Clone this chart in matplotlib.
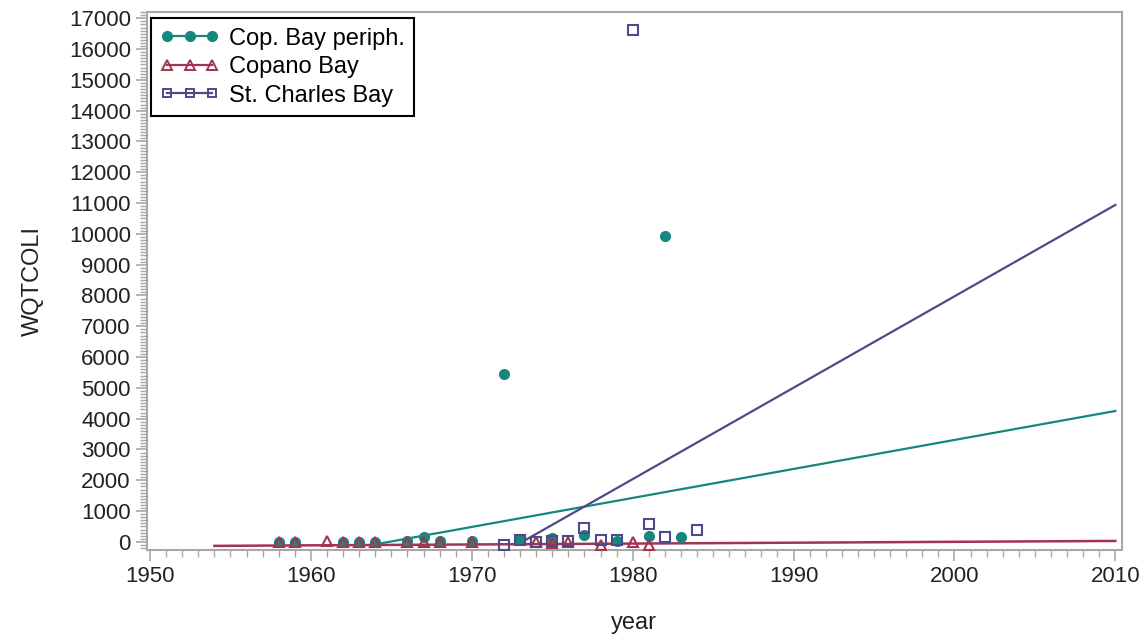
import matplotlib
matplotlib.use("Agg")
import matplotlib.pyplot as plt
from matplotlib.ticker import MultipleLocator

plt.rcParams["font.family"] = ["Liberation Sans", "DejaVu Sans"]

# Cop. Bay periph.
periph_year = [1958, 1959, 1962, 1963, 1964, 1966, 1967, 1968, 1970, 1972,
               1973, 1975, 1977, 1979, 1981, 1982, 1983]
periph_val = [10, 10, 10, 10, 10, 20, 150, 20, 20, 5450,
              80, 130, 230, 30, 200, 9930, 150]

# Copano Bay
copano_year = [1958, 1959, 1961, 1962, 1963, 1964, 1966, 1967, 1968, 1970,
               1974, 1975, 1976, 1978, 1980, 1981]
copano_val = [10, 10, 20, 10, 10, 10, 10, 10, 10, 10,
              10, -40, 10, -100, 10, -100]

# St. Charles Bay
charles_year = [1972, 1973, 1974, 1975, 1976, 1977, 1978, 1979, 1980, 1981, 1982, 1984]
charles_val = [-100, 60, 10, 20, 20, 450, 50, 50, 16620, 580, 150, 400]

# fitted trend lines (end points)
periph_fit_x = [1964, 2010]
periph_fit_y = [-80, 4250]
copano_fit_x = [1954, 2010]
copano_fit_y = [-130, 30]
charles_fit_x = [1973, 2010]
charles_fit_y = [-40, 10940]

teal = "#16877e"
red = "#a3344f"
purple = "#4e4a8a"

fig = plt.figure(figsize=(11.47, 6.39), dpi=100)
ax = fig.add_axes([0.128, 0.139, 0.850, 0.842])

ax.plot(copano_fit_x, copano_fit_y, color=red, lw=1.8, zorder=2)
ax.plot(periph_fit_x, periph_fit_y, color=teal, lw=1.6, zorder=2)
ax.plot(charles_fit_x, charles_fit_y, color=purple, lw=1.6, zorder=2)

ax.plot(periph_year, periph_val, ls="none", marker="o", ms=7, color=teal, zorder=3)
ax.plot(copano_year, copano_val, ls="none", marker="^", ms=7.5, mfc="none", mec=red, mew=1.5, zorder=4)
ax.plot(charles_year, charles_val, ls="none", marker="s", ms=6.5, mfc="none", mec=purple, mew=1.5, zorder=5)

# legend handles
h1, = ax.plot([], [], color=teal, marker="o", ms=7, lw=1.6)
h2, = ax.plot([], [], color=red, marker="^", ms=7, mfc="none", mew=1.4, lw=1.6)
h3, = ax.plot([], [], color=purple, marker="s", ms=6, mfc="none", mew=1.4, lw=1.6)
leg = ax.legend([h1, h2, h3], ["Cop. Bay periph.", "Copano Bay", "St. Charles Bay"],
                loc="upper left", numpoints=3, handlelength=2.5, fontsize=17,
                fancybox=False, framealpha=1, edgecolor="black",
                borderpad=0.4, labelspacing=0.28, handletextpad=0.4,
                borderaxespad=0, bbox_to_anchor=(0.004, 0.989))
leg.get_frame().set_linewidth(1.5)

ax.set_xlim(1949.8, 2010.4)
ax.set_ylim(-270, 17200)
ax.xaxis.set_major_locator(MultipleLocator(10))
ax.xaxis.set_minor_locator(MultipleLocator(1))
ax.yaxis.set_major_locator(MultipleLocator(1000))
ax.yaxis.set_minor_locator(MultipleLocator(100))

for s in ax.spines.values():
    s.set_color("#a8a8a8")
    s.set_linewidth(1.5)
ax.tick_params(which="major", length=8, width=1.2, color="#a8a8a8", labelsize=16, labelcolor="#222222")
ax.tick_params(which="minor", length=5, width=1.0, color="#a8a8a8")

ax.set_xlabel("year", fontsize=17, labelpad=18, color="#222222")
ax.set_ylabel("WQTCOLI", fontsize=17, labelpad=18, color="#222222")

fig.savefig("out.png", dpi=100)
